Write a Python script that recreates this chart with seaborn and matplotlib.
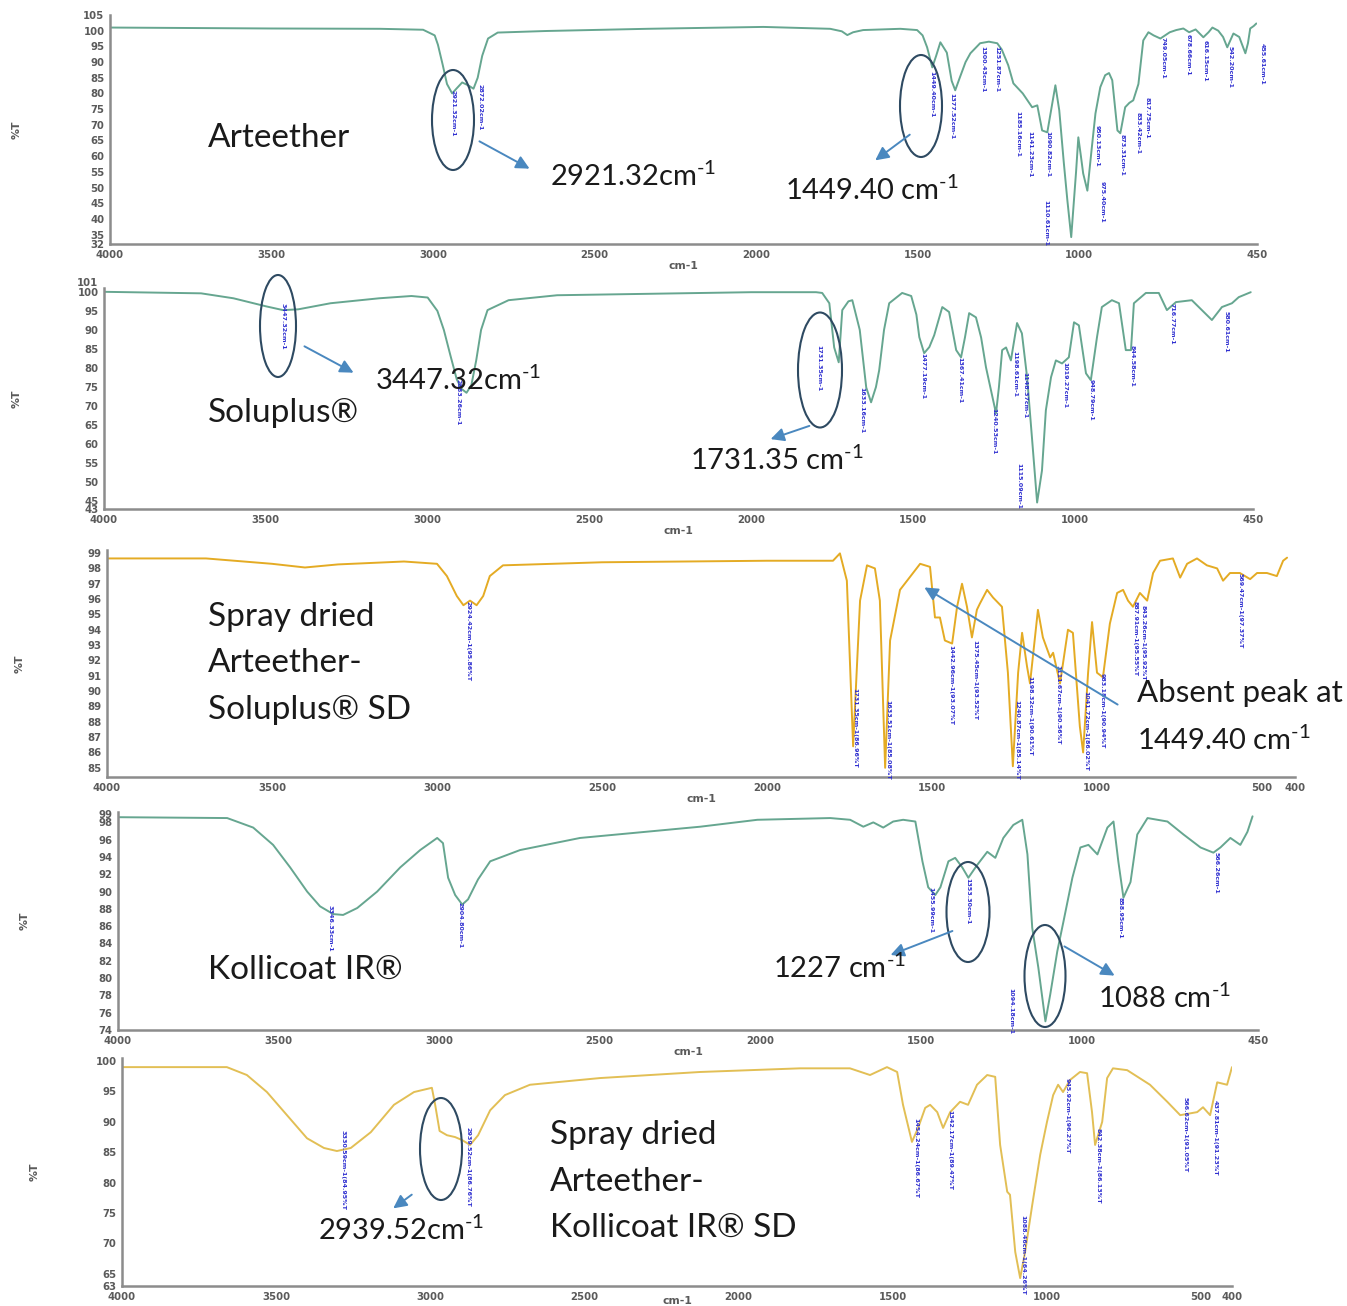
import numpy as np
import pandas as pd
import matplotlib
matplotlib.use("Agg")
import matplotlib.pyplot as plt
import seaborn as sns
from matplotlib.patches import Ellipse

W, H = 1347, 1306

# ---------------- data (wavenumber cm-1, %T) ----------------
arteether_wn = [4000, 3500, 3164, 3031, 2995, 2985, 2970, 2957, 2941, 2928, 2910, 2890, 2875, 2862, 2848, 2830, 2800,
                2650, 2337, 1978, 1771, 1735, 1718, 1700, 1669, 1554, 1502, 1485, 1471, 1455, 1443, 1430, 1410, 1395,
                1384, 1370, 1352, 1337, 1307, 1280, 1254, 1240, 1220, 1204, 1175, 1146, 1130, 1115, 1099, 1085, 1074,
                1062, 1048, 1037, 1025, 1010, 1003, 995, 988, 975, 962, 950, 935, 920, 908, 898, 882, 873, 858, 845,
                833, 817, 802, 786, 770, 749, 720, 700, 678, 660, 640, 616, 600, 588, 570, 555, 542, 530, 523, 505,
                486, 478, 471, 460, 452]
arteether_t = [101.0, 100.7, 100.6, 100.3, 98.5, 95.5, 89.0, 83.0, 80.0, 81.5, 83.5, 82.5, 81.5, 85.0, 92.0, 97.5, 99.4,
               99.9, 100.6, 101.2, 100.6, 99.8, 98.6, 99.5, 100.2, 100.6, 100.2, 98.5, 94.7, 88.3, 92.0, 96.3, 93.0, 84.0,
               81.0, 85.0, 90.0, 92.8, 96.0, 96.5, 96.0, 94.0, 89.0, 83.2, 80.0, 75.6, 76.2, 68.2, 67.6, 76.0, 82.6,
               74.6, 58.0, 46.0, 34.2, 55.0, 66.0, 60.0, 54.5, 49.0, 62.0, 73.6, 82.0, 85.8, 86.5, 84.2, 68.2, 67.3, 75.6, 77.0,
               77.8, 83.0, 96.9, 99.5, 98.5, 97.5, 99.5, 100.2, 100.7, 99.5, 100.4, 97.9, 99.5, 101.0, 100.0, 98.0, 94.7, 97.5, 99.1, 98.0,
               92.8, 96.0, 100.7, 101.5, 102.3]

soluplus_wn = [4000, 3700, 3600, 3500, 3447, 3400, 3300, 3150, 3050, 3000, 2970, 2950, 2930, 2910, 2895, 2880, 2865,
               2850, 2835, 2815, 2750, 2600, 2000, 1800, 1781, 1759, 1744, 1730, 1719, 1700, 1688, 1665, 1645, 1630,
               1615, 1605, 1590, 1574, 1534, 1506, 1490, 1481, 1466, 1450, 1435, 1410, 1389, 1367, 1352, 1340, 1327,
               1306, 1290, 1275, 1244, 1235, 1225, 1213, 1198, 1179, 1164, 1148, 1133, 1117, 1102, 1090, 1074, 1059,
               1040, 1019, 1003, 988, 966, 951, 932, 917, 886, 864, 843, 827, 818, 781, 741, 716, 688, 639, 608, 577,
               546, 515, 494, 457]
soluplus_t = [100.0, 99.6, 98.3, 96.2, 95.2, 95.4, 97.0, 98.3, 98.9, 98.5, 95.0, 90.0, 83.4, 77.0, 74.5, 73.5, 75.5,
              82.0, 90.0, 95.2, 97.8, 99.1, 99.9, 99.9, 99.7, 97.0, 85.4, 81.5, 95.2, 97.5, 97.8, 90.0, 74.9, 71.0,
              75.0, 79.4, 90.0, 97.0, 99.7, 98.9, 94.0, 88.1, 83.9, 85.5, 88.6, 96.0, 94.7, 84.7, 82.8, 88.0, 94.4,
              93.3, 88.0, 80.2, 68.1, 75.0, 84.7, 85.4, 82.0, 91.8, 89.1, 77.6, 61.8, 44.7, 53.1, 68.9, 77.6, 82.0,
              81.2, 82.8, 92.0, 91.2, 78.6, 76.8, 88.1, 96.0, 97.8, 97.0, 84.7, 84.7, 97.0, 99.7, 99.7, 95.2, 97.3, 97.8, 95.2, 92.6,
              96.0, 97.0, 98.6, 99.9]

sd_soluplus_wn = [4000, 3700, 3500, 3400, 3300, 3100, 3000, 2970, 2940, 2920, 2900, 2880, 2860, 2840, 2800, 2500, 2000,
                  1800, 1779, 1758, 1739, 1718, 1697, 1673, 1658, 1642, 1627, 1597, 1536, 1506, 1491, 1476, 1461, 1439,
                  1424, 1409, 1394, 1379, 1364, 1355, 1333, 1315, 1288, 1270, 1255, 1239, 1227, 1212, 1203, 1179, 1164,
                  1142, 1133, 1112, 1088, 1073, 1052, 1042, 1027, 1015, 1000, 982, 961, 939, 921, 906, 891, 870, 848,
                  830, 809, 770, 748, 727, 697, 667, 636, 618, 597, 567, 536, 515, 485, 455, 436, 424]
sd_soluplus_t = [98.65, 98.65, 98.3, 98.06, 98.26, 98.45, 98.3, 97.5, 96.2, 95.6, 95.9, 95.6, 96.2, 97.5, 98.2, 98.4, 98.5,
                 98.5, 98.98, 97.2, 86.4, 95.9, 98.2, 98.0, 95.9, 85.0, 93.3, 96.6, 98.3, 98.1, 94.8, 94.8, 93.3, 93.1,
                 95.5, 97.0, 95.5, 93.5, 95.3, 95.7, 96.6, 96.1, 95.5, 91.2, 85.1, 91.2, 93.8, 91.6, 90.5, 95.3, 93.5,
                 92.2, 92.5, 90.5, 94.0, 93.8, 87.7, 86.0, 91.2, 94.5, 91.2, 90.9, 94.4, 96.4, 96.6, 95.9, 95.5, 96.4, 95.9,
                 97.7, 98.5, 98.65, 97.4, 98.3, 98.65, 98.2, 98.0, 97.2, 97.7, 97.7, 97.3, 97.7, 97.7, 97.5, 98.5, 98.7]

kollicoat_wn = [4000, 3660, 3579, 3517, 3464, 3411, 3371, 3330, 3299, 3255, 3193, 3121, 3059, 3006, 2988, 2972, 2950,
                2928, 2910, 2879, 2841, 2748, 2561, 2187, 2009, 1782, 1720, 1679, 1648, 1617, 1586, 1555, 1517, 1495,
                1477, 1455, 1439, 1414, 1393, 1371, 1352, 1324, 1293, 1268, 1243, 1212, 1184, 1168, 1153, 1134, 1112,
                1097, 1075, 1056, 1028, 1003, 978, 950, 919, 900, 885, 869, 847, 826, 794, 732, 682, 629, 589, 567, 536,
                505, 483, 467]
kollicoat_t = [98.6, 98.5, 97.4, 95.4, 92.8, 90.0, 88.3, 87.4, 87.3, 88.1, 90.0, 92.8, 94.8, 96.2, 95.6, 91.6, 89.6,
               88.5, 89.1, 91.4, 93.5, 94.8, 96.2, 97.5, 98.3, 98.5, 98.3, 97.5, 98.0, 97.4, 98.1, 98.3, 98.1, 93.5,
               90.5, 89.6, 90.5, 93.5, 93.9, 92.8, 91.6, 93.1, 94.6, 93.9, 96.2, 97.7, 98.3, 94.3, 85.8, 81.2, 75.0,
               78.1, 83.1, 86.5, 91.6, 95.1, 95.4, 94.3, 97.4, 98.1, 93.5, 89.3, 91.1, 96.6, 98.5, 98.1, 96.6, 95.1, 94.5, 95.1, 96.2,
               95.4, 96.9, 98.7]

sd_kollicoat_wn = [4000, 3660, 3595, 3530, 3465, 3400, 3345, 3303, 3258, 3193, 3118, 3053, 2995, 2985, 2970, 2946, 2920,
                   2897, 2871, 2845, 2806, 2758, 2677, 2450, 2125, 1801, 1639, 1574, 1519, 1486, 1467, 1438, 1418, 1395,
                   1379, 1356, 1337, 1314, 1282, 1256, 1227, 1194, 1168, 1152, 1129, 1120, 1103, 1087, 1071, 1048, 1022,
                   1000, 980, 964, 948, 925, 893, 870, 854, 844, 821, 805, 786, 740, 666, 610, 568, 513, 494, 471, 448,
                   416, 400]
sd_kollicoat_t = [99.0, 99.0, 97.7, 94.9, 91.1, 87.3, 85.7, 85.2, 85.7, 88.3, 92.8, 94.9, 95.6, 93.0, 88.5, 87.8, 87.5,
                  87.0, 86.2, 87.8, 91.9, 94.4, 96.1, 97.2, 98.2, 98.8, 98.8, 97.7, 99.0, 98.2, 92.8, 86.7, 89.0, 92.3,
                  92.8, 91.6, 89.0, 91.6, 93.3, 92.8, 96.1, 97.7, 97.4, 86.2, 78.5, 78.0, 68.6, 64.3, 68.6, 76.3, 84.6,
                  90.0, 94.4, 96.1, 94.9, 96.9, 98.2, 98.0, 91.6, 86.2, 90.0, 97.2, 98.8, 98.5, 96.1, 93.3, 91.1, 91.6, 92.4, 91.1, 96.5,
                  96.1, 99.0]

# peak labels: (wavenumber, %T at top of label, text)
arteether_peaks = [(2938, 81, "2921.32cm-1"), (2855, 83, "2872.02cm-1"), (1455, 87, "1449.40cm-1"),
                   (1393, 80, "1377.52cm-1"), (1300, 95, "1300.43cm-1"), (1254, 95, "1251.87cm-1"),
                   (1189, 74.5, "1185.16cm-1"), (1152, 68, "1141.23cm-1"), (1105, 46, "1110.61cm-1"),
                   (1096, 68, "1090.82cm-1"), (945, 70, "950.13cm-1"), (929, 52, "975.40cm-1"),
                   (867, 67, "873.31cm-1"), (818, 74, "833.42cm-1"), (790, 79, "817.75cm-1"),
                   (740, 98, "749.05cm-1"), (663, 99, "678.66cm-1"), (610, 97, "616.15cm-1"),
                   (533, 95, "542.20cm-1"), (433, 96, "455.61cm-1")]
soluplus_peaks = [(3448, 97, "3447.32cm-1"), (2907, 77, "2883.26cm-1"), (1790, 86, "1731.35cm-1"),
                  (1660, 75, "1633.16cm-1"), (1469, 84, "1477.19cm-1"), (1355, 83, "1367.41cm-1"),
                  (1250, 69.5, "1240.53cm-1"), (1185, 84.5, "1198.61cm-1"), (1154, 79, "1148.37cm-1"),
                  (1173, 55, "1115.09cm-1"), (1031, 81.5, "1019.27cm-1"), (951, 77, "948.79cm-1"),
                  (824, 86, "844.58cm-1"), (700, 97, "716.77cm-1"), (534, 95, "580.61cm-1")]
sd_soluplus_peaks = [(2906, 95.9, "2924.42cm-1(95.86%T"), (1733, 90.2, "1731.35cm-1(86.96%T"),
                     (1633, 89.4, "1633.51cm-1(85.08%T"), (1442, 93, "1442.96cm-1(93.07%T"),
                     (1370, 93.3, "1375.45cm-1(93.52%T"), (1242, 89.4, "1240.87cm-1(85.14%T"),
                     (1203, 91, "1198.32cm-1(90.61%T"), (1118, 91.7, "1111.67cm-1(90.56%T"),
                     (1033, 90, "1041.72cm-1(86.02%T"), (985, 91.2, "983.18cm-1(90.94%T"),
                     (885, 95.9, "887.91cm-1(95.55%T"), (861, 95.6, "843.26cm-1(95.92%T"),
                     (567, 97.7, "569.47cm-1(97.37%T")]
kollicoat_peaks = [(3340, 88.5, "3346.33cm-1"), (2935, 88.8, "2904.80cm-1"), (1470, 90.5, "1455.99cm-1"),
                   (1355, 91.6, "1353.30cm-1"), (1221, 78.9, "1094.18cm-1"), (879, 89.4, "858.95cm-1"),
                   (582, 94.6, "566.26cm-1")]
sd_kollicoat_peaks = [(3283, 88.7, "3330.59cm-1(84.95%T"), (2878, 89.2, "2939.52cm-1(86.76%T"),
                      (1425, 90.6, "1454.24cm-1(86.67%T"), (1314, 91.9, "1342.17cm-1(89.47%T"),
                      (1078, 74.7, "1088.46cm-1(64.26%T"), (935, 97.2, "945.92cm-1(96.27%T"),
                      (834, 89, "842.38cm-1(86.13%T"), (552, 94.1, "566.62cm-1(91.05%T"),
                      (455, 93.6, "437.81cm-1(91.23%T")]

xticks_a = [4000, 3500, 3000, 2500, 2000, 1500, 1000, 450]
xticks_b = [4000, 3500, 3000, 2500, 2000, 1500, 1000, 500, 400]

# ---------------- style ----------------
sns.set_style("white")
plt.rcParams['font.family'] = ['Lato', 'DejaVu Sans']
plt.rcParams['mathtext.fontset'] = 'custom'
plt.rcParams['mathtext.rm'] = 'Lato'
plt.rcParams['mathtext.it'] = 'Lato:italic'
plt.rcParams['mathtext.bf'] = 'Lato:bold'

GREEN = "#66a690"
GOLD = "#e4ab24"
GOLD2 = "#e2bf55"
ELL = "#2e4a62"
ARR = "#4a88bf"
PEAK = "#2f2fd0"

fig = plt.figure(figsize=(W / 100, H / 100), dpi=100)

panels = [
    dict(rect=(110, 15, 1257, 244), wn=arteether_wn, t=arteether_t, color=GREEN, xlim=(4000, 450),
         ylim=(32, 105), yticks=[32] + list(range(35, 106, 5)), xticks=xticks_a, peaks=arteether_peaks,
         ylab_x=22, lpad=1),
    dict(rect=(104, 288, 1253, 509), wn=soluplus_wn, t=soluplus_t, color=GREEN, xlim=(4000, 450),
         ylim=(43, 101), yticks=[43] + list(range(45, 101, 5)) + [101], xticks=xticks_a, peaks=soluplus_peaks,
         ylab_x=22, lpad=1),
    dict(rect=(107, 550, 1295, 777), wn=sd_soluplus_wn, t=sd_soluplus_t, color=GOLD, xlim=(4000, 400),
         ylim=(84.4, 99.2), yticks=list(range(85, 100)), xticks=xticks_b, peaks=sd_soluplus_peaks,
         ylab_x=25, lpad=1),
    dict(rect=(118, 812, 1258, 1030), wn=kollicoat_wn, t=kollicoat_t, color=GREEN, xlim=(4000, 450),
         ylim=(74, 99.2), yticks=list(range(74, 99, 2)) + [99], xticks=xticks_a, peaks=kollicoat_peaks,
         ylab_x=30, lpad=1),
    dict(rect=(122, 1058, 1232, 1286), wn=sd_kollicoat_wn, t=sd_kollicoat_t, color=GOLD2, xlim=(4000, 400),
         ylim=(63, 100.5), yticks=[63] + list(range(65, 101, 5)), xticks=xticks_b, peaks=sd_kollicoat_peaks,
         ylab_x=40, lpad=-4),
]

for p in panels:
    l, t, r, b = p["rect"]
    ax = fig.add_axes([l / W, 1 - b / H, (r - l) / W, (b - t) / H])
    df = pd.DataFrame({"wn": p["wn"], "T": p["t"]})
    sns.lineplot(data=df, x="wn", y="T", ax=ax, color=p["color"], lw=1.4, estimator=None, sort=False)
    ax.set_xlim(*p["xlim"])
    ax.set_ylim(*p["ylim"])
    ax.set_xticks(p["xticks"])
    ax.set_yticks(p["yticks"])
    ax.set_xticklabels([str(v) for v in p["xticks"]])
    ax.set_yticklabels([str(v) for v in p["yticks"]])
    sns.despine(ax=ax)
    for s in ("left", "bottom"):
        ax.spines[s].set_color("#8c8c8c")
        ax.spines[s].set_linewidth(1.8)
    ax.tick_params(axis="both", length=3, width=1, color="#8c8c8c", pad=1, labelcolor="#5a5a5a")
    ylabels = ax.get_yticklabels()
    for lab in ax.get_xticklabels() + ylabels:
        lab.set_fontfamily("DejaVu Sans")
        lab.set_fontweight("bold")
        lab.set_fontsize(7.3)
    # crowded end labels: push the extreme ones outward like the instrument printout
    if p["yticks"][-1] - p["yticks"][-2] == 1 and len(p["yticks"]) > 2 and p["yticks"][-2] % 5 == 0:
        ylabels[-1].set_va("bottom")
    ax.set_xlabel("cm-1", fontfamily="DejaVu Sans", fontweight="bold", fontsize=7.8, color="#5a5a5a",
                  labelpad=p["lpad"])
    ax.set_ylabel("%T", fontfamily="DejaVu Sans", fontweight="bold", fontsize=7.8, color="#5a5a5a")
    ax.yaxis.set_label_coords(-(l - p["ylab_x"]) / (r - l), 0.5)
    for wn, tv, txt in p["peaks"]:
        ax.text(wn, tv, txt, rotation=-90, ha="center", va="top", fontsize=4.6, color=PEAK,
                fontfamily="DejaVu Sans", fontweight="bold", clip_on=False)


def ftext(x, y, s, size=21):
    fig.text(x / W, 1 - y / H, s, fontsize=size, ha="left", va="center", color="#1a1a1a")


def fell(cx, cy, w, h):
    fig.add_artist(Ellipse((cx / W, 1 - cy / H), w / W, h / H, transform=fig.transFigure,
                           fill=False, ec=ELL, lw=1.5))


def farrow(x0, y0, x1, y1):
    fig.add_artist(matplotlib.patches.FancyArrowPatch((x0 / W, 1 - y0 / H), (x1 / W, 1 - y1 / H),
                                                      transform=fig.transFigure, arrowstyle="-|>",
                                                      mutation_scale=20, color=ARR, lw=1.4))


CM = r"cm$^{\text{-1}}$"
WORD = 24

# Panel 1
ftext(208, 138, "Arteether", WORD)
fell(453, 120, 42, 100)
farrow(477, 140, 532, 170)
ftext(550, 176, "2921.32" + CM)
fell(921, 106, 42, 102)
farrow(912, 133, 873, 162)
ftext(785, 190, "1449.40 " + CM)

# Panel 2
ftext(208, 413, "Soluplus®", WORD)
fell(278, 326, 36, 102)
farrow(302, 345, 356, 374)
ftext(375, 380, "3447.32" + CM)
fell(820, 370, 44, 115)
farrow(812, 425, 768, 440)
ftext(690, 460, "1731.35 " + CM)

# Panel 3
ftext(208, 617, "Spray dried", WORD)
ftext(208, 663, "Arteether-", WORD)
ftext(208, 710, "Soluplus® SD", WORD)
farrow(1120, 706, 922, 586)
ftext(1137, 693, "Absent peak at", 22.5)
ftext(1137, 740, "1449.40 " + CM)

# Panel 4
ftext(208, 970, "Kollicoat IR®", WORD)
fell(968, 912, 43, 100)
farrow(955, 930, 888, 956)
ftext(773, 968, "1227 " + CM)
fell(1045, 976, 41, 102)
farrow(1062, 945, 1117, 977)
ftext(1098, 998, "1088 " + CM)

# Panel 5
fell(441, 1149, 42, 102)
farrow(414, 1193, 391, 1210)
ftext(318, 1230, "2939.52" + CM)
ftext(550, 1135, "Spray dried", WORD)
ftext(550, 1182, "Arteether-", WORD)
ftext(550, 1228, "Kollicoat IR® SD", WORD)

fig.savefig("out.png", dpi=100)
